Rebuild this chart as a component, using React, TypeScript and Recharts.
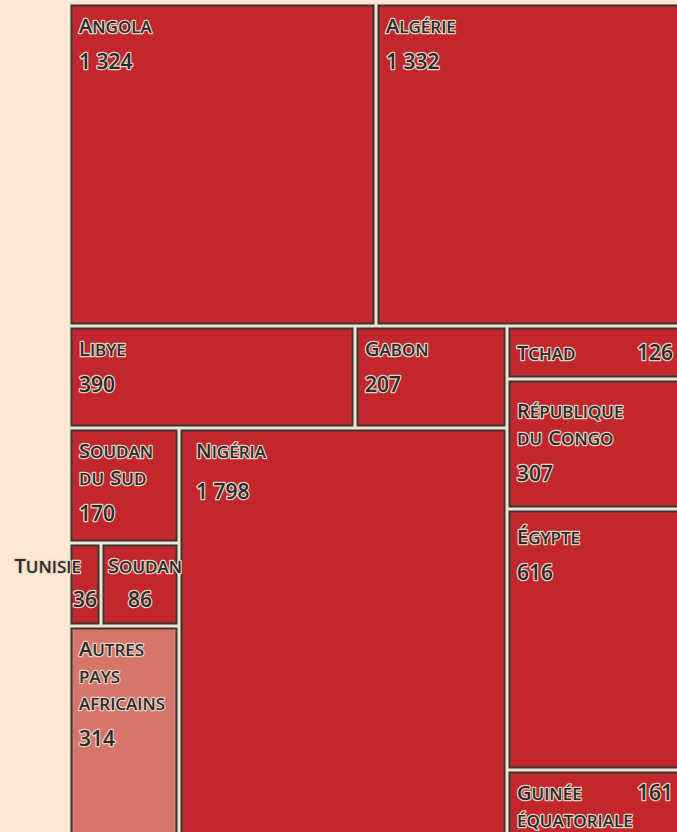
import React from 'react';
import { Treemap } from 'recharts';

// volumes par pays
const countries = [
  'Angola', 'Algérie', 'Libye', 'Gabon', 'Soudan du Sud', 'Tunisie', 'Soudan',
  'Autres pays africains', 'Nigéria', 'Tchad', 'République du Congo', 'Égypte', 'Guinée équatoriale',
];
const volumes = [1324, 1332, 390, 207, 170, 36, 86, 314, 1798, 126, 307, 616, 161];
const labelLines = [
  'Angola', 'Algérie', 'Libye', 'Gabon', 'Soudan\ndu Sud', 'Tunisie', 'Soudan',
  'Autres\npays\nafricains', 'Nigéria', 'Tchad', 'République\ndu Congo', 'Égypte', 'Guinée\néquatoriale',
];
// hierarchy (indices into countries), binary groups so the squarify keeps the original blocks
const grouping: any[] = [[0, 1], [[[2, 3], [[4, [[5, 6], 7]], 8]], [9, [10, [11, 12]]]]];

const BG = '#fde9d3';
const GAP = '#f1e3cf';
const RED = '#c1272d';
const LIGHT = '#d6766a';
const EDGE = '#3b3633';
const INK = '#2b2b2b';
const HALO = '#ead2c4';

const lightCells = ['Autres pays africains'];
const inlineValue = ['Tchad', 'Guinée équatoriale'];
const extraDy: Record<string, number> = { Tchad: 4, 'République du Congo': 9, 'Égypte': 5 };
const extraDx: Record<string, number> = { 'Nigéria': 7 };
const extraValDy: Record<string, number> = { 'Nigéria': 5 };

type Node = { name: string; size?: number; children?: Node[] };

const build = (g: any, path: string): Node =>
  typeof g === 'number'
    ? { name: countries[g], size: volumes[g] }
    : { name: path, children: g.map((c: any, i: number) => build(c, `${path}.${i}`)) };

const data = grouping.map((g, i) => build(g, `g${i}`));

const fmt = (v: number) => String(v).replace(/\B(?=(\d{3})+(?!\d))/g, ' ');

const W = 615;
const H = 835;

const CellShape = (p: any) => {
  const { x, y, width, height, children, name } = p;
  if (children && children.length) return <g />;
  const fill = lightCells.includes(name) ? LIGHT : RED;
  return (
    <g>
      <rect x={x} y={y} width={width} height={height} fill={GAP} />
      <rect x={x + 2.5} y={y + 2.5} width={width - 5} height={height - 5} fill={fill} stroke={EDGE} strokeWidth={2} />
    </g>
  );
};

const LOWER = /[a-zàâäçéèêëîïôöùûü]/;

const capsLine = (line: string, size: number) => {
  const runs = line.match(/[a-zàâäçéèêëîïôöùûü ]+|[^a-zàâäçéèêëîïôöùûü ]+/g) || [];
  return runs.map((r, k) =>
    LOWER.test(r) ? (
      <tspan key={k} fontSize={size * 0.84 / 0.7} style={{ fontVariant: 'small-caps' }}>{r}</tspan>
    ) : (
      <tspan key={k} fontSize={size}>{r}</tspan>
    ),
  );
};

const T = (props: any) => (
  <text
    fontFamily="'Open Sans', sans-serif"
    fontWeight={600}
    fill={INK}
    stroke={HALO}
    strokeWidth={2.5}
    strokeLinejoin="round"
    style={{ paintOrder: 'stroke' }}
    {...props}
  />
);

const LabelShape = (p: any) => {
  const { x, y, width, children, name, value } = p;
  if (children && children.length) return <g />;
  const i = countries.indexOf(name);
  const lines = labelLines[i].split('\n');
  const top = y + 30 + (extraDy[name] ?? 0);
  const left = x + 10 + (extraDx[name] ?? 0);
  const cx = x + width / 2;
  const capSize = 20;
  const valSize = 21;

  if (name === 'Tunisie' || name === 'Soudan') {
    return (
      <g>
        <T x={name === 'Tunisie' ? x + 12 : x + 7} y={top} textAnchor={name === 'Tunisie' ? 'end' : 'start'}>
          {capsLine(lines[0], capSize)}
        </T>
        <T x={cx} y={top + 34} textAnchor="middle" fontSize={valSize}>{fmt(value)}</T>
      </g>
    );
  }

  return (
    <g>
      {lines.map((l, k) => (
        <T key={k} x={left} y={top + k * 27}>{capsLine(l, capSize)}</T>
      ))}
      {inlineValue.includes(name) ? (
        <T x={x + width - 11} y={top} textAnchor="end" fontSize={valSize}>{fmt(value)}</T>
      ) : (
        <T x={left} y={top + (lines.length - 1) * 27 + 36 + (extraValDy[name] ?? 0)} fontSize={valSize}>
          {fmt(value)}
        </T>
      )}
    </g>
  );
};

export default function App() {
  return (
    <div style={{ position: 'absolute', left: 0, top: 0, width: 677, height: 832, overflow: 'hidden', background: BG }}>
      <style>{'.tm svg { overflow: visible; } .tm .recharts-wrapper { overflow: visible; }'}</style>
      <div className="tm" style={{ position: 'absolute', left: 69, top: 3 }}>
        <Treemap
          width={W}
          height={H}
          data={data}
          dataKey="size"
          aspectRatio={1}
          isAnimationActive={false}
          content={(props: any) => <CellShape {...props} />}
        />
      </div>
      <div className="tm" style={{ position: 'absolute', left: 69, top: 3, pointerEvents: 'none' }}>
        <Treemap
          width={W}
          height={H}
          data={data}
          dataKey="size"
          aspectRatio={1}
          isAnimationActive={false}
          content={(props: any) => <LabelShape {...props} />}
        />
      </div>
    </div>
  );
}
